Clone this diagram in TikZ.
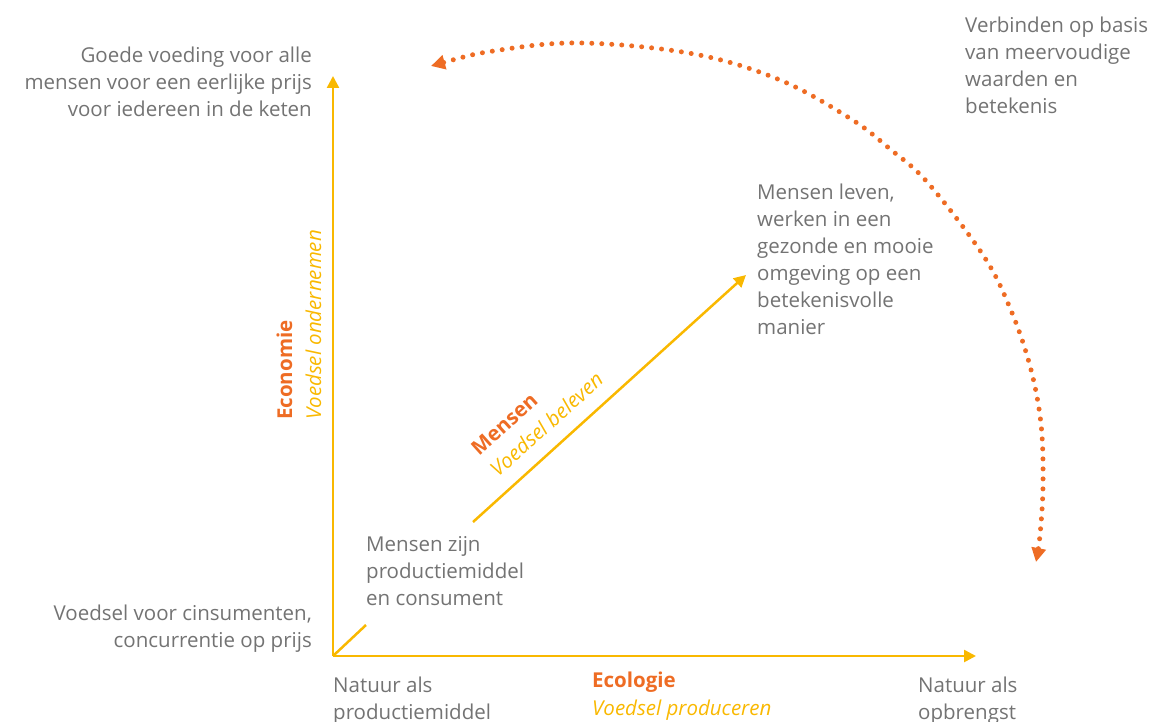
\documentclass[tikz,border=0pt]{standalone}
\usepackage{fontspec}
\setmainfont{Open Sans}
\usepackage{xcolor}
\usepackage{tikz}
\usetikzlibrary{positioning,arrows.meta}

\definecolor{txtgray}{HTML}{737373}
\definecolor{axisyellow}{HTML}{F9B800}
\definecolor{accorange}{HTML}{EE6C24}

\begin{document}
\begin{tikzpicture}[x=1pt,y=-1pt,
  axis/.style={draw=axisyellow,line width=2.5pt},
  axisarrow/.style={axis,-{Triangle[length=12pt,width=12pt]}},
  note/.style={inner sep=0pt,text=txtgray,font=\fontsize{20.5}{27}\selectfont},
  title/.style={inner sep=0pt,text=accorange,font=\fontsize{20.5}{27}\selectfont\bfseries},
  sub/.style={inner sep=0pt,text=axisyellow,font=\fontsize{20.5}{27}\selectfont\itshape}]
\useasboundingbox (0,0) rectangle (1172,722);

% axes
\coordinate (origin) at (333,656);
\coordinate (ytop) at (333,76);
\coordinate (xend) at (976,656);
\draw[axisarrow] (origin) -- (ytop);
\draw[axisarrow] (origin) -- (xend);

% diagonal
\coordinate (dstart) at (366,625);
\coordinate (dmid) at (473,522);
\coordinate (dend) at (746,275);
\draw[axis] (origin) -- (dstart);
\draw[axisarrow] (dmid) -- (dend);

% corner texts
\node[note,anchor=north east,align=right] (goal) at (312,47)
  {Goede voeding voor alle\\mensen voor een eerlijke prijs\\voor iedereen in de keten};
\node[note,anchor=north east,align=right] (market) at (312,605)
  {Voedsel voor cinsumenten,\\concurrentie op prijs};
\node[note,anchor=north west,align=left] (natprod) at (333,677)
  {Natuur als\\productiemiddel};
\node[note,anchor=north west,align=left] (natopb) at (918,677)
  {Natuur als\\opbrengst};
\node[note,anchor=north west,align=left] (menszijn) at (366,536)
  {Mensen zijn\\productiemiddel\\en consument};
\node[note,anchor=north west,align=left] (mensleven) at (757,184)
  {Mensen leven,\\werken in een\\gezonde en mooie\\omgeving op een\\betekenisvolle\\manier};
\node[note,anchor=north west,align=left] (verbinden) at (965,17)
  {Verbinden op basis\\van meervoudige\\waarden en\\betekenis};

% axis labels
\node[title,anchor=north west] (ecol) at (592,672) {Ecologie};
\node[sub,anchor=north west] (ecolsub) at (592,700) {Voedsel produceren};
\node[title,rotate=90,anchor=base west] (econ) at (292,420) {Economie};
\node[sub,rotate=90,anchor=base west] (econsub) at (321,420) {Voedsel ondernemen};
\node[title,rotate=42,anchor=base west] (mens) at (479,457) {Mensen};
\node[sub,rotate=42,anchor=base west] (menssub) at (498,478) {Voedsel beleven};

% dotted arc
\draw[accorange,line width=5pt,line cap=round,dash pattern=on 0pt off 10pt,
  {Triangle[length=14pt,width=14pt]}-{Triangle[length=14pt,width=14pt]}]
  plot[smooth,tension=0.6] coordinates {(431,66) (500,50) (583,43) (694,54) (780,80)
  (851,119) (890,149) (928,183) (983,255) (1010,308) (1030,366) (1041,424)
  (1043,485) (1040,535) (1036,562)};
\end{tikzpicture}
\end{document}
